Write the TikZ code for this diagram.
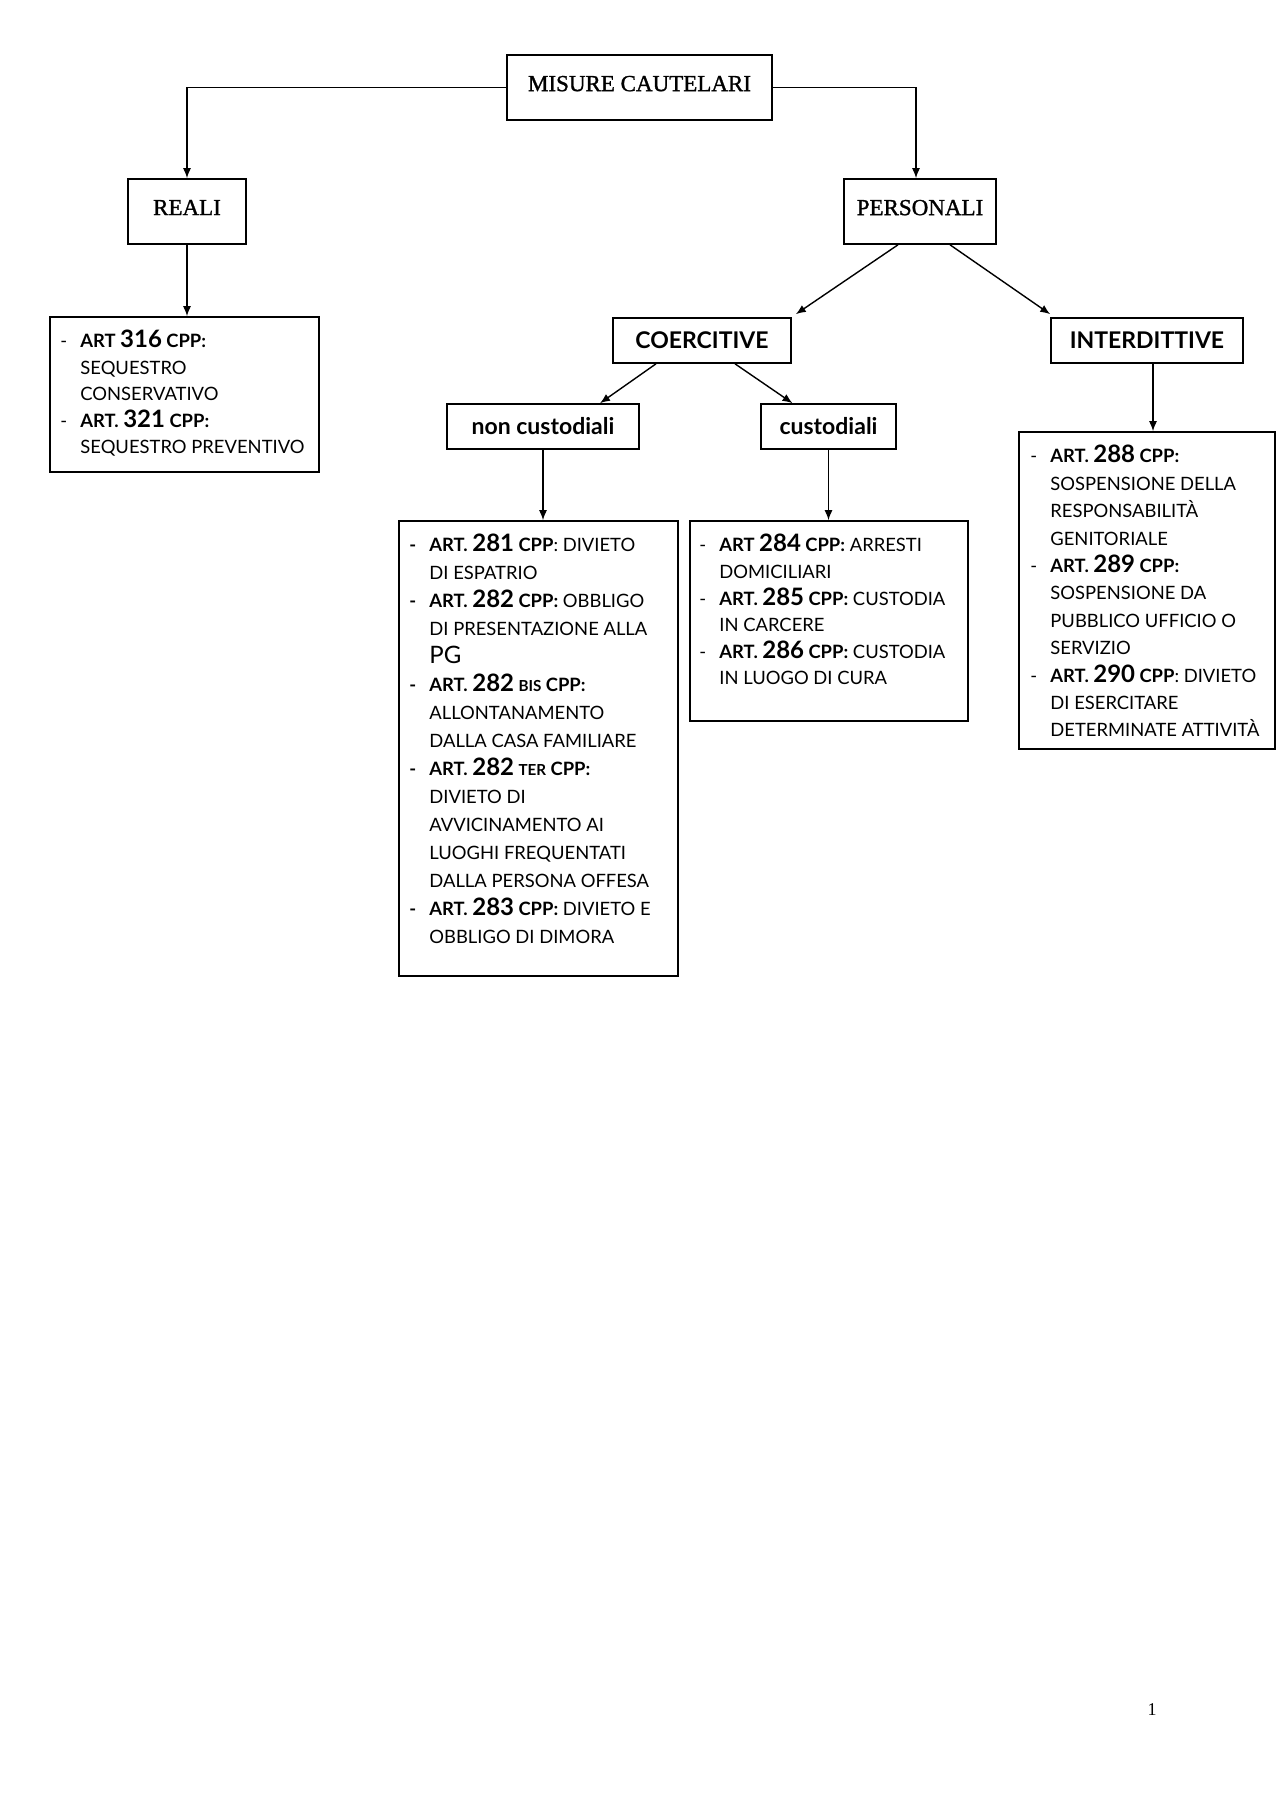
\documentclass[tikz,border=0pt]{standalone}
\usepackage{fontspec}
\setmainfont{Lato}
\newfontfamily\hdserif[FakeBold=1.2]{Liberation Serif}
\newfontfamily\pnserif{Liberation Serif}
\usetikzlibrary{arrows.meta,calc,fit}
\newcommand\nb[1]{{\fontsize{12}{12}\selectfont #1}}
\newcommand\sx[1]{{\fontsize{7.6}{8}\selectfont #1}}
\newcommand\dd{\makebox[10pt][l]{-}}
\newcommand\ddb{\makebox[10pt][l]{\bfseries -}}
\newcommand\cc{\hspace*{10pt}}
\begin{document}
\begin{tikzpicture}[x=0.5pt,y=-0.5pt,
  box/.style={draw, line width=0.8pt, inner sep=0pt},
  hd/.style={box, font=\hdserif\fontsize{11.5}{12}\selectfont, text depth=4pt, minimum height=32.5pt},
  hs/.style={box, font=\bfseries\fontsize{11.5}{12}\selectfont, minimum height=22.5pt},
  conn/.style={line width=0.7pt, -{Latex[length=5pt,width=4pt]}},
  body/.style={anchor=north west, inner sep=0pt, align=left},
]
\fill[white] (0,0) rectangle (1280,1811);
\useasboundingbox (0,0) rectangle (1280,1811);

% heading boxes
\node[hd, minimum width=132.5pt] (misure) at (639.5,87.5) {MISURE CAUTELARI};
\node[hd, minimum width=59pt] (reali) at (187,211.5) {REALI};
\node[hd, minimum width=76pt] (personali) at (920,211.5) {PERSONALI};
\node[hs, minimum width=89pt] (coerc) at (702,340.5) {COERCITIVE};
\node[hs, minimum width=96pt] (interd) at (1147,340.5) {INTERDITTIVE};
\node[hs, minimum width=96pt] (noncust) at (543,426.5) {non custodiali};
\node[hs, minimum width=67.5pt] (cust) at (828.5,426.5) {custodiali};

% content boxes
\node[box, fit={(50,317)(319,472)}] (rbox) {};
\node[box, fit={(399,521)(678,976)}] (nbox) {};
\node[box, fit={(690,521)(968,721)}] (cbox) {};
\node[box, fit={(1019,432)(1275,749)}] (ibox) {};

% content texts
\node[body, font=\fontsize{9.2}{13.2}\selectfont] (rtext) at (60,330) {%
\dd{\bfseries ART \nb{316} CPP:}\\
\cc SEQUESTRO\\
\cc CONSERVATIVO\\
\dd{\bfseries ART. \nb{321} CPP:}\\
\cc SEQUESTRO PREVENTIVO};

\node[body, font=\fontsize{9.2}{14}\selectfont] (ntext) at (409,534) {%
\ddb{\bfseries ART. \nb{281} CPP}: DIVIETO\\
\cc DI ESPATRIO\\
\ddb{\bfseries ART. \nb{282} CPP:} OBBLIGO\\
\cc DI PRESENTAZIONE ALLA\\
\cc \nb{PG}\\
\ddb{\bfseries ART. \nb{282} \sx{BIS} CPP:}\\
\cc ALLONTANAMENTO\\
\cc DALLA CASA FAMILIARE\\
\ddb{\bfseries ART. \nb{282} \sx{TER} CPP:}\\
\cc DIVIETO DI\\
\cc AVVICINAMENTO AI\\
\cc LUOGHI FREQUENTATI\\
\cc DALLA PERSONA OFFESA\\
\ddb{\bfseries ART. \nb{283} CPP:} DIVIETO E\\
\cc OBBLIGO DI DIMORA};

\node[body, font=\fontsize{9.2}{13.3}\selectfont] (ctext) at (699,534) {%
\dd{\bfseries ART \nb{284} CPP:} ARRESTI\\
\cc DOMICILIARI\\
\dd{\bfseries ART. \nb{285} CPP:} CUSTODIA\\
\cc IN CARCERE\\
\dd{\bfseries ART. \nb{286} CPP:} CUSTODIA\\
\cc IN LUOGO DI CURA};

\node[body, font=\fontsize{9.2}{13.7}\selectfont] (itext) at (1030,445) {%
\dd{\bfseries ART. \nb{288} CPP:}\\
\cc SOSPENSIONE DELLA\\
\cc RESPONSABILITÀ\\
\cc GENITORIALE\\
\dd{\bfseries ART. \nb{289} CPP:}\\
\cc SOSPENSIONE DA\\
\cc PUBBLICO UFFICIO O\\
\cc SERVIZIO\\
\dd{\bfseries ART. \nb{290} CPP}: DIVIETO\\
\cc DI ESERCITARE\\
\cc DETERMINATE ATTIVITÀ};

% page number
\node[font=\pnserif\fontsize{9}{10}\selectfont] (pnum) at (1152,1710) {1};

% connectors
\draw[conn] (misure.west) -| (reali.north);
\draw[conn] (misure.east) -| ($(personali.north)+(-4,0)$);
\draw[conn] (reali.south) -- (reali.south |- rbox.north);
\draw[conn] ($(personali.south)+(-22,0)$) -- ($(coerc.north east)+(4,-3)$);
\draw[conn] ($(personali.south)+(30,0)$) -- ($(interd.north west)+(0,-3)$);
\draw[conn] ($(coerc.south)+(-46,0)$) -- ($(noncust.north)+(57,0)$);
\draw[conn] ($(coerc.south)+(33,0)$) -- ($(cust.north)+(-36,0)$);
\draw[conn] (noncust.south) -- (noncust.south |- nbox.north);
\draw[conn] (cust.south) -- (cust.south |- cbox.north);
\draw[conn] ($(interd.south)+(6,0)$) -- ($(interd.south |- ibox.north)+(6,0)$);
\end{tikzpicture}
\end{document}
